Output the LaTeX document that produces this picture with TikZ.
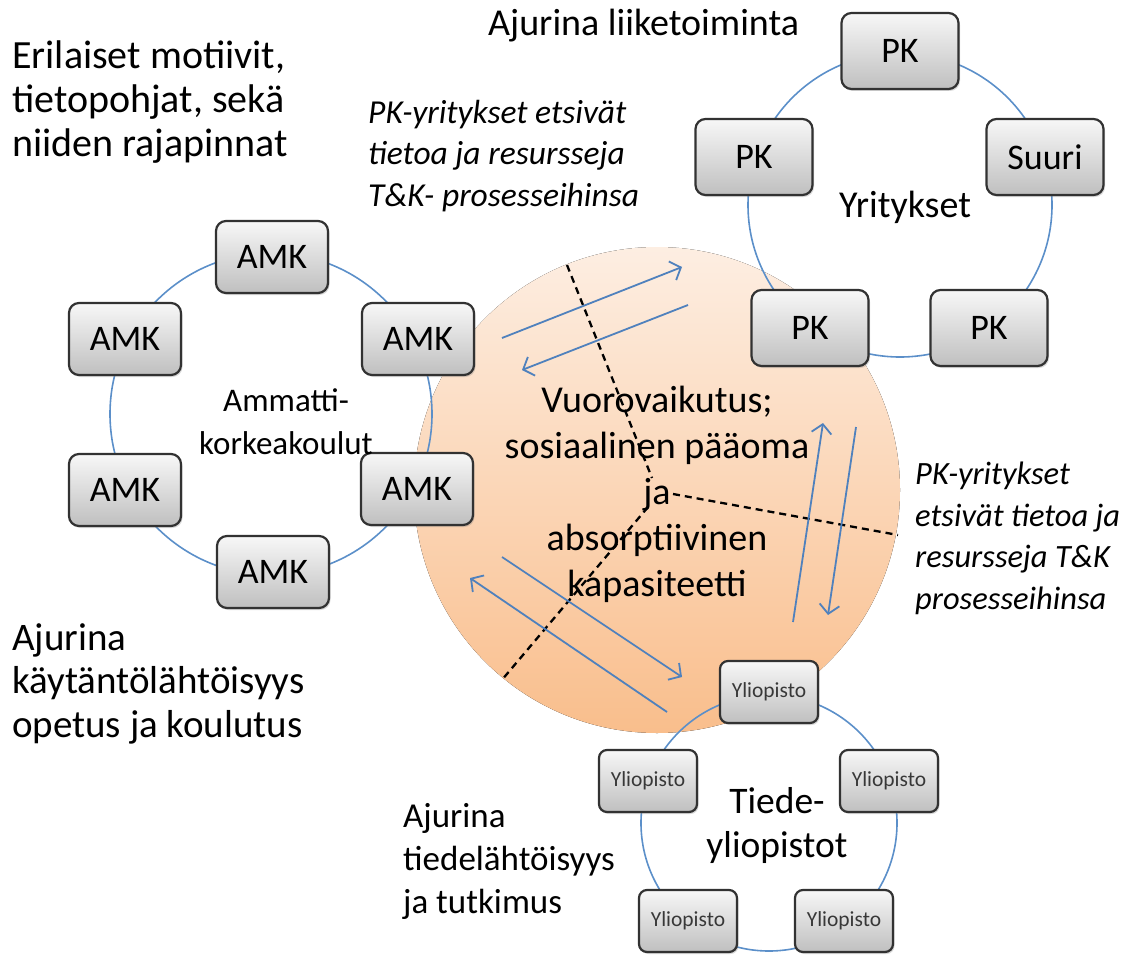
\documentclass[tikz,border=0pt]{standalone}
\usepackage{fontspec}
\setmainfont{Carlito}
\usetikzlibrary{arrows.meta,shadows}

\definecolor{ringblue}{RGB}{91,143,201}
\definecolor{arrowblue}{RGB}{79,129,189}
\definecolor{peachtop}{RGB}{253,238,226}
\definecolor{peachbot}{RGB}{249,190,140}
\definecolor{boxedge}{RGB}{50,50,50}

\begin{document}
\begin{tikzpicture}[x=1pt,y=-1pt,
  box/.style={draw=boxedge, line width=2.2pt, rounded corners=10pt,
    top color=black!3, bottom color=black!25,
    minimum width=114pt, minimum height=74pt, inner sep=0pt,
    font=\fontsize{36}{40}\selectfont,
    drop shadow={shadow xshift=1.5pt, shadow yshift=-2pt, opacity=0.3}},
  unibox/.style={box, minimum width=98pt, minimum height=62pt,
    rounded corners=8pt, font=\fontsize{21.5}{24}\selectfont, text=black!78},
  ring/.style={draw=ringblue, line width=1.6pt},
  flow/.style={draw=arrowblue, line width=1.8pt,
    -{Straight Barb[length=9pt,width=20pt,line width=1.8pt]}},
  border/.style={draw=black, line width=2.3pt, dash pattern=on 7pt off 5pt},
  label/.style={font=\fontsize{36}{44}\selectfont, inner sep=0pt},
  note/.style={font=\itshape\fontsize{32.5}{41.5}\selectfont, inner sep=0pt, align=left}
]
\useasboundingbox (0,0) rectangle (1135,955);

% shared centre: interaction zone
\coordinate (hub) at (657,490);
\fill[top color=peachtop, bottom color=peachbot] (hub) circle[radius=243];

% boundaries between the three knowledge bases
\coordinate (bTop) at (567,265);
\coordinate (bTopEnd) at (652,478);
\coordinate (bRight) at (673,494);
\coordinate (bRightEnd) at (898,535);
\coordinate (bLow) at (648,507);
\coordinate (bLowEnd) at (501,681);
\draw[border] (bTop) -- (bTopEnd);
\draw[border] (bRight) -- (bRightEnd);
\draw[border] (bLow) -- (bLowEnd);

% knowledge flows
\coordinate (f1a) at (502,338); \coordinate (f1b) at (682,267);
\coordinate (f2a) at (688,305); \coordinate (f2b) at (522,370);
\coordinate (f3a) at (793,622); \coordinate (f3b) at (823,423);
\coordinate (f4a) at (856,427); \coordinate (f4b) at (828,615);
\coordinate (f5a) at (502,557); \coordinate (f5b) at (682,677);
\coordinate (f6a) at (667,712); \coordinate (f6b) at (470,578);
\draw[flow] (f1a) -- (f1b);
\draw[flow] (f2a) -- (f2b);
\draw[flow] (f3a) -- (f3b);
\draw[flow] (f4a) -- (f4b);
\draw[flow] (f5a) -- (f5b);
\draw[flow] (f6a) -- (f6b);

% the three networks
\coordinate (amkC) at (271,414);
\coordinate (pkC) at (900,205);
\coordinate (yoC) at (769,823);
\draw[ring] (amkC) circle[radius=161];
\draw[ring] (pkC) circle[radius=152];
\draw[ring] (yoC) circle[radius=128];

\node[box, minimum width=112pt, minimum height=72pt] (amk1) at (272,257) {AMK};
\node[box, minimum width=112pt, minimum height=72pt] (amk2) at (418,339) {AMK};
\node[box, minimum width=112pt, minimum height=72pt] (amk3) at (417,489) {AMK};
\node[box, minimum width=112pt, minimum height=72pt] (amk4) at (273,572) {AMK};
\node[box, minimum width=112pt, minimum height=72pt] (amk5) at (125,490) {AMK};
\node[box, minimum width=112pt, minimum height=72pt] (amk6) at (125,339) {AMK};

\node[box, minimum width=117pt, minimum height=76pt] (pk1) at (900,51) {PK};
\node[box, minimum width=117pt, minimum height=76pt] (suuri) at (1045,157) {Suuri};
\node[box, minimum width=117pt, minimum height=76pt] (pk2) at (989,328) {PK};
\node[box, minimum width=117pt, minimum height=76pt] (pk3) at (810,328) {PK};
\node[box, minimum width=117pt, minimum height=76pt] (pk4) at (754,157) {PK};

\node[unibox] (yo1) at (769,692) {Yliopisto};
\node[unibox] (yo2) at (889,781) {Yliopisto};
\node[unibox] (yo3) at (844,921) {Yliopisto};
\node[unibox] (yo4) at (688,921) {Yliopisto};
\node[unibox] (yo5) at (648,781) {Yliopisto};

% labels
\node[label, anchor=north, align=center, font=\fontsize{33}{43}\selectfont] (amkLabel) at (286,388) {Ammatti-\\korkeakoulut};
\node[label, anchor=base, font=\fontsize{38}{44}\selectfont] (pkLabel) at (905,217) {Yritykset};
\node[label, anchor=north, align=center, font=\fontsize{37.5}{44}\selectfont] (yoLabel) at (777,787) {Tiede-\\yliopistot};
\node[label, anchor=north, align=center, font=\fontsize{38}{46}\selectfont] (hubLabel) at (657,386)
  {Vuorovaikutus;\\sosiaalinen pääoma\\ja\\absorptiivinen\\kapasiteetti};

\node[label, anchor=north west, align=left, font=\fontsize{40}{44}\selectfont] (motives) at (12,41)
  {Erilaiset motiivit,\\tietopohjat, sekä\\niiden rajapinnat};
\node[label, anchor=north west, font=\fontsize{38}{44}\selectfont] (driverBiz) at (488,9) {Ajurina liiketoiminta};
\node[label, anchor=north west, align=left, font=\fontsize{39}{43.5}\selectfont] (driverAmk) at (12,623)
  {Ajurina\\käytäntölähtöisyys\\opetus ja koulutus};
\node[label, anchor=north west, align=left, font=\fontsize{35}{43}\selectfont] (driverYo) at (403,803)
  {Ajurina\\tiedelähtöisyys\\ja tutkimus};

\node[note, anchor=north west, font=\itshape\fontsize{33.5}{41.5}\selectfont] (noteTop) at (368,100)
  {PK-yritykset etsivät\\tietoa ja resursseja\\T\&K- prosesseihinsa};
\node[note, anchor=north west] (noteRight) at (915,462)
  {PK-yritykset\\etsivät tietoa ja\\resursseja T\&K\\prosesseihinsa};
\end{tikzpicture}
\end{document}
